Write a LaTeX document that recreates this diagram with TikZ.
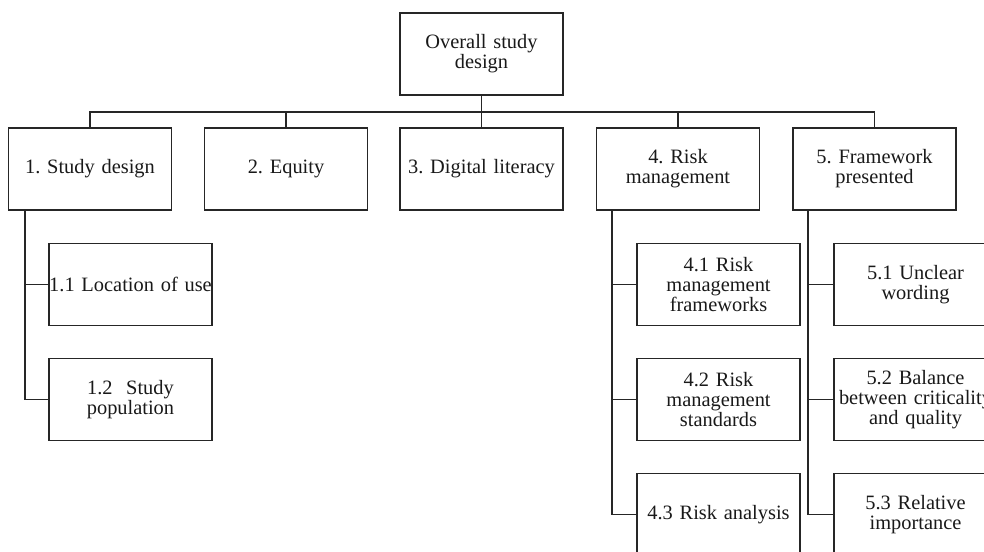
\documentclass[tikz,border=0pt]{standalone}
\usepackage{fontspec}
\setmainfont{Liberation Serif}
\frenchspacing
\tikzset{
  box/.style={draw=black!85, line width=0.9pt, minimum width=81.5pt, minimum height=41pt,
    text width=81.5pt, inner sep=0pt, align=center, text=black!90,
    font=\fontsize{10.2}{10}\selectfont},
  link/.style={draw=black!85, line width=0.9pt}
}
\begin{document}
\begin{tikzpicture}[x=0.5pt,y=-0.5pt]
        \useasboundingbox (0,0) rectangle (984,551);
        % Top level
        \node[box] (top) at (481.5,54) {Overall study\\design};
        % Themes
        \node[box] (d1) at (90,169) {1. Study design};
        \node[box] (d2) at (286,169) {2. Equity};
        \node[box] (d3) at (481.5,169) {3. Digital literacy};
        \node[box] (d4) at (678,169) {4. Risk\\management};
        \node[box] (d5) at (874.5,169) {5. Framework\\presented};
        % Sub-themes
        \node[box] (s11) at (130.5,284.5) {1.1 Location of use};
        \node[box] (s12) at (130.5,399.5) {1.2\ \ Study\\population};
        \node[box] (s41) at (718.5,284.5) {4.1 Risk\\management\\frameworks};
        \node[box] (s42) at (718.5,399.5) {4.2 Risk\\management\\standards};
        \node[box] (s43) at (718.5,514.5) {4.3 Risk analysis};
        \node[box] (s51) at (915.5,284.5) {5.1 Unclear\\wording};
        \node[box] (s52) at (915.5,399.5) {5.2 Balance\\between criticality\\and quality};
        \node[box] (s53) at (915.5,514.5) {5.3 Relative\\importance};
        % Bus
        \coordinate (bus) at (0,112);
        \draw[link] (top.south) -- (d3.north);
        \draw[link] (d1.north) -- (d1.north |- bus) -- (d5.north |- bus) -- (d5.north);
        \draw[link] (d2.north) -- (d2.north |- bus);
        \draw[link] (d4.north) -- (d4.north |- bus);
        % Trunks
        \coordinate (t1) at ([xshift=8.5pt]d1.south west);
        \coordinate (t4) at ([xshift=8pt]d4.south west);
        \coordinate (t5) at ([xshift=8pt]d5.south west);
        \draw[link] (t1) |- (s12.west);
        \draw[link] (t1 |- s11.west) -- (s11.west);
        \draw[link] (t4) |- (s43.west);
        \draw[link] (t4 |- s41.west) -- (s41.west);
        \draw[link] (t4 |- s42.west) -- (s42.west);
        \draw[link] (t5) |- (s53.west);
        \draw[link] (t5 |- s51.west) -- (s51.west);
        \draw[link] (t5 |- s52.west) -- (s52.west);
\end{tikzpicture}
\end{document}
